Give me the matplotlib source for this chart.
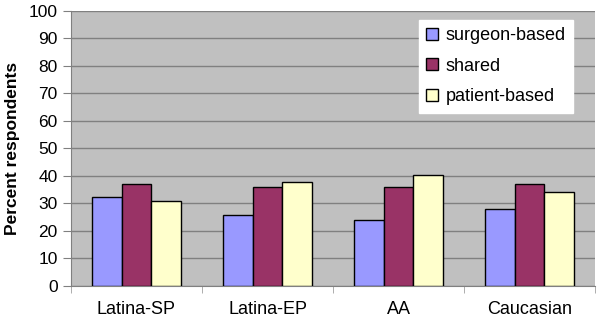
import matplotlib
matplotlib.use("Agg")
import matplotlib.pyplot as plt
import numpy as np

plt.rcParams['font.family'] = ['Liberation Sans', 'DejaVu Sans']

categories = ["Latina-SP", "Latina-EP", "AA", "Caucasian"]
series_names = ["surgeon-based", "shared", "patient-based"]
surgeon = [32.2, 25.8, 24.1, 28.1]
shared = [37.0, 36.0, 36.0, 37.0]
patient = [30.7, 37.9, 40.2, 34.0]
yticks = list(range(0, 101, 10))

colors = ["#9999FF", "#993366", "#FFFFCC"]

fig = plt.figure(figsize=(6.0, 3.2), dpi=100)
ax = fig.add_axes([71/600, 1-286/320, (595-71)/600, (286-10.7)/320])
ax.set_facecolor("#C0C0C0")

x = np.arange(len(categories))
w = 0.229
for i, (vals, c, name) in enumerate(zip([surgeon, shared, patient], colors, series_names)):
    ax.bar(x + (i - 1) * w, vals, w, color=c, edgecolor="black", linewidth=1.0,
           label=name, zorder=3)

ax.set_xlim(-0.5, len(categories) - 0.5)
ax.set_ylim(0, 100)
ax.set_yticks(yticks)
ax.set_yticklabels([str(t) for t in yticks], fontsize=12.5)
ax.yaxis.grid(True, color="#808080", linewidth=1.0, zorder=0)
ax.set_axisbelow(True)

ax.set_xticks(x)
ax.set_xticklabels(categories, fontsize=13)
ax.tick_params(axis='x', length=0, pad=11)
ax.set_xticks(np.arange(-0.5, len(categories) + 0.5, 1), minor=True)
ax.tick_params(axis='x', which='minor', length=5, color="#A0A0A0", direction='out')
ax.tick_params(axis='y', length=5.5, color="#808080", direction='out', pad=4)

for s in ['top', 'right']:
    ax.spines[s].set_visible(False)
ax.spines['left'].set_color("#808080")
ax.spines['bottom'].set_color("#808080")

ax.set_ylabel("Percent respondents", fontsize=12.5, fontweight='bold', labelpad=6)

leg = ax.legend(loc='upper right', bbox_to_anchor=(573/600, 1-20/320), bbox_transform=fig.transFigure,
                fontsize=13, frameon=True, fancybox=False, handlelength=0.65, handleheight=0.65,
                handletextpad=0.45, labelspacing=0.75, borderpad=0.4, borderaxespad=0)
leg.get_frame().set_facecolor("white")
leg.get_frame().set_edgecolor("white")
leg.get_frame().set_alpha(1)

fig.savefig("out.png", dpi=100)
